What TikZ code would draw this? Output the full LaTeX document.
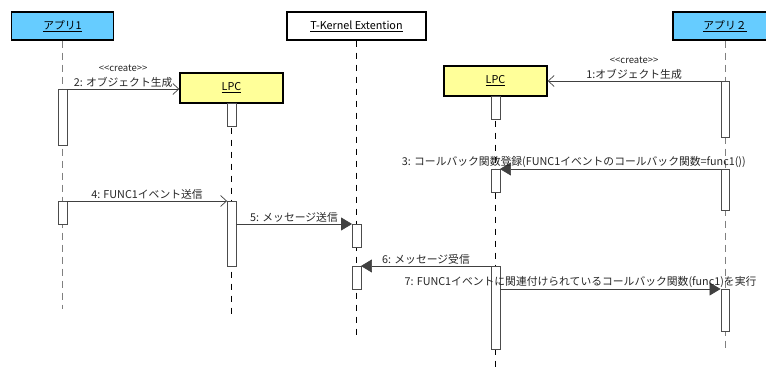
\documentclass[tikz,border=0pt]{standalone}
\usepackage{fontspec}
\setmainfont{Noto Sans CJK JP}
\usetikzlibrary{arrows.meta,positioning}
\definecolor{appcolor}{RGB}{102,204,255}
\definecolor{lpccolor}{RGB}{255,255,153}
\definecolor{lifegray}{RGB}{128,128,128}
\newcommand{\stereo}[1]{{\fontsize{9.5}{10}\selectfont<\kern0pt<#1>\kern0pt>}}

\begin{document}
\begin{tikzpicture}[x=1pt, y=-1pt,
    head/.style={rectangle, draw, line width=1.4pt, minimum height=28pt, inner sep=0pt, font=\fontsize{10.8}{12}\selectfont},
    lpcbox/.style={head, fill=lpccolor, minimum width=103pt, minimum height=30pt},
    act/.style={rectangle, draw=black!70, fill=white, minimum width=8.5pt, minimum height=#1, inner sep=0pt, anchor=north},
    applife/.style={draw=lifegray, line width=1pt, dash pattern=on 7pt off 5pt},
    objlife/.style={draw=black, line width=0.7pt, dash pattern=on 6pt off 6pt},
    msg/.style={draw=black!75, line width=0.7pt},
    open/.style={msg, -{Straight Barb[length=6pt, width=11pt]}},
    filled/.style={msg, -{Triangle[length=11pt, width=13pt]}},
    lbl/.style={above, inner sep=1.5pt, text=black!85, font=\fontsize{10.8}{15}\selectfont, align=center}
]
    \clip (0,0) rectangle (766,372);

    \node[head, fill=appcolor, minimum width=102pt] (app1) at (62.5,26) {\underline{アプリ1}};
    \node[head, fill=white, minimum width=139pt] (tke) at (356.5,26) {\underline{T-Kernel Extention}};
    \node[head, fill=appcolor, minimum width=104pt] (app2) at (725,26) {\underline{アプリ２}};
    \node[lpcbox] (lpcA) at (231.5,88) {\underline{LPC}};
    \node[lpcbox] (lpcB) at (495.5,81) {\underline{LPC}};

    \coordinate (app1end) at (62.5,309);
    \coordinate (lpcAend) at (231.5,314);
    \coordinate (tkeend) at (356.5,335);
    \coordinate (lpcBend) at (495.5,372);
    \coordinate (app2end) at (725,352);

    \draw[applife] (app1) -- (app1end);
    \draw[objlife] (lpcA) -- (lpcAend);
    \draw[objlife] (tke) -- (tkeend);
    \draw[objlife] (lpcB) -- (lpcBend);
    \draw[applife] (app2) -- (app2end);

    \node[act=56pt] (app1a) at (62.5,89) {};
    \node[act=23pt] (app1b) at (62.5,201) {};
    \node[act=23pt] (lpcAa) at (231.5,103) {};
    \node[act=65pt] (lpcAb) at (231.5,201) {};
    \node[act=23pt] (tkea) at (356.5,224) {};
    \node[act=23pt] (tkeb) at (356.5,266) {};
    \node[act=23pt] (lpcBa) at (495.5,96) {};
    \node[act=23pt] (lpcBb) at (495.5,169) {};
    \node[act=83pt] (lpcBc) at (495.5,266) {};
    \node[act=56pt] (app2a) at (725,81) {};
    \node[act=41pt] (app2b) at (725,169) {};
    \node[act=42pt] (app2c) at (725,289) {};

    \draw[open] (app2a.north west) -- (app2a.north west -| lpcB.east)
        node[lbl, midway] {\stereo{create}\\1:オブジェクト生成};
    \draw[open] (app1a.north east) -- (app1a.north east -| lpcA.west)
        node[lbl, midway] {\stereo{create}\\2: オブジェクト生成};
    \draw[filled] (app2b.north west) -- (app2b.north west -| lpcBb.east)
        node[lbl, pos=0.665] {3: コールバック関数登録(FUNC1イベントのコールバック関数=func1())};
    \draw[open] (app1b.north east) -- (app1b.north east -| lpcAb.west)
        node[lbl, midway] {4: FUNC1イベント送信};
    \draw[filled] (lpcAb.north east |- tkea.north) -- (tkea.north west)
        node[lbl, midway] {5: メッセージ送信};
    \draw[filled] (lpcBc.north west) -- (lpcBc.north west -| tkeb.east)
        node[lbl, midway] {6: メッセージ受信};
    \draw[filled] (lpcBc.north east |- app2c.north) -- (app2c.north west)
        node[lbl, pos=0.365] {7: FUNC1イベントに関連付けられているコールバック関数(func1)を実行};
\end{tikzpicture}
\end{document}
